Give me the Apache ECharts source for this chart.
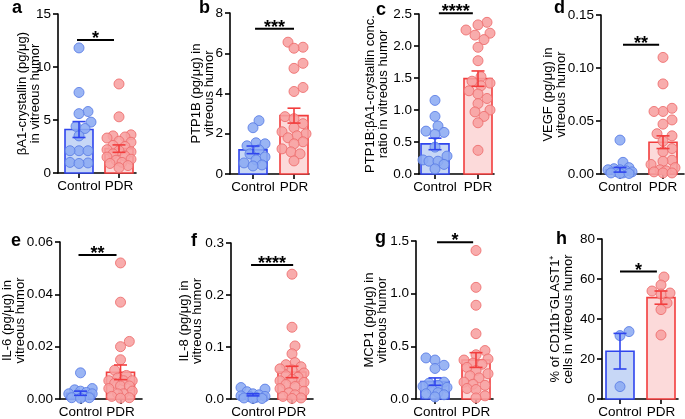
<!DOCTYPE html>
<html><head><meta charset="utf-8">
<script src="https://cdn.jsdelivr.net/npm/echarts@6/dist/echarts.min.js"></script>
<style>html,body{margin:0;padding:0;background:#fff}#c{width:685px;height:419px}</style>
</head><body><div id="c"></div>
<script>
// ---------------- DATA ----------------
const categories = ['Control', 'PDR'];

// a: βA1-crystallin
const aControl = [11.8, 7.6, 5.8, 5.6, 4.8, 4.4, 4.2, 3.5, 2.1, 2.1, 2.1, 1.0, 0.95, 0.9];
const aPDR = [8.4, 5.3, 3.6, 3.5, 3.4, 3.3, 3.0, 2.9, 2.6, 2.5, 2.2, 2.1, 2.0, 1.8, 1.6, 1.5, 1.3, 1.2, 1.0, 0.9, 0.7, 0.5];
const aMean = [4.1, 2.3];
const aSem = [0.75, 0.35];

// b: PTP1B
const bControl = [2.65, 2.3, 1.55, 1.5, 1.4, 1.2, 1.0, 0.85, 0.7, 0.55, 0.45, 0.4];
const bPDR = [6.55, 6.3, 6.25, 5.5, 5.25, 4.3, 4.1, 2.85, 2.75, 2.5, 2.3, 2.1, 2.0, 1.9, 1.8, 1.6, 1.5, 1.25, 1.1, 1.0, 0.65];
const bMean = [1.2, 2.9];
const bSem = [0.19, 0.37];

// c: PTP1B:βA1-crystallin ratio
const cControl = [1.15, 0.9, 0.75, 0.67, 0.65, 0.62, 0.42, 0.28, 0.22, 0.2, 0.2, 0.15, 0.08];
const cPDR = [2.37, 2.33, 2.25, 2.2, 2.17, 2.1, 1.98, 1.77, 1.52, 1.45, 1.42, 1.38, 1.3, 1.25, 1.18, 1.1, 1.0, 0.97, 0.9, 0.8, 0.37];
const cMean = [0.47, 1.49];
const cSem = [0.09, 0.12];

// d: VEGF
const dControl = [0.032, 0.011, 0.006, 0.005, 0.004, 0.004, 0.003, 0.002, 0.002, 0.001, 0.001, 0.0005, 0.0005];
const dPDR = [0.11, 0.085, 0.062, 0.059, 0.059, 0.051, 0.047, 0.038, 0.036, 0.031, 0.024, 0.021, 0.013, 0.012, 0.009, 0.006, 0.004, 0.003, 0.002, 0.001, 0.001];
const dMean = [0.004, 0.03];
const dSem = [0.0022, 0.006];

// e: IL-6
const eControl = [0.010, 0.004, 0.0035, 0.003, 0.0025, 0.002, 0.002, 0.0015, 0.001, 0.0005, 0.0005, 0.0003];
const ePDR = [0.052, 0.037, 0.022, 0.02, 0.015, 0.011, 0.009, 0.008, 0.007, 0.007, 0.007, 0.006, 0.005, 0.005, 0.004, 0.003, 0.002, 0.002, 0.001, 0.0005, 0.0003];
const eMean = [0.0022, 0.0102];
const eSem = [0.0008, 0.0028];

// f: IL-8
const fControl = [0.022, 0.019, 0.014, 0.01, 0.008, 0.006, 0.005, 0.004, 0.003, 0.002, 0.001, 0.001];
const fPDR = [0.24, 0.138, 0.102, 0.087, 0.07, 0.066, 0.062, 0.058, 0.056, 0.05, 0.045, 0.042, 0.038, 0.035, 0.032, 0.028, 0.024, 0.02, 0.015, 0.012, 0.008, 0.005, 0.002, 0.001];
const fMean = [0.008, 0.052];
const fSem = [0.002, 0.011];

// g: MCP1
const gControl = [0.39, 0.37, 0.32, 0.29, 0.16, 0.15, 0.13, 0.12, 0.11, 0.09, 0.06, 0.05, 0.04, 0.02];
const gPDR = [1.41, 1.06, 0.89, 0.62, 0.46, 0.42, 0.38, 0.37, 0.34, 0.33, 0.3, 0.27, 0.24, 0.22, 0.2, 0.16, 0.14, 0.13, 0.1, 0.09, 0.03, 0.01];
const gMean = [0.165, 0.37];
const gSem = [0.035, 0.07];

// h: % CD11b-GLAST1+ cells
const hControl = [33.7, 31.7, 6.2];
const hPDR = [61, 57, 54, 53, 52.5, 48, 44.7, 32];
const hMean = [23.9, 50.7];
const hSem = [8.9, 3.3];

// y-axis scales (max, interval, decimals)
const yMax = [15, 8, 2.5, 0.15, 0.06, 0.3, 1.5, 80];
const yInterval = [5, 2, 0.5, 0.05, 0.02, 0.1, 0.5, 20];
const yDecimals = [0, 0, 1, 2, 2, 1, 1, 0];

const panelLetters = ['a', 'b', 'c', 'd', 'e', 'f', 'g', 'h'];
const yNames = [
  'βA1-crystallin (pg/μg)\nin vitreous humor',
  'PTP1B (pg/μg) in\nvitreous humor',
  'PTP1B:βA1-crystallin conc.\nratio in vitreous humor',
  'VEGF (pg/μg) in\nvitreous humor',
  'IL-6 (pg/μg) in\nvitreous humor',
  'IL-8 (pg/μg) in\nvitreous humor',
  'MCP1 (pg/μg) in\nvitreous humor',
  '% of CD11b⁻GLAST1⁺\ncells in vitreous humor'
];
const significance = ['*', '***', '****', '**', '**', '****', '*', '*'];
const sigLevel = [12.55, 7.22, 2.51, 0.122, 0.055, 0.2575, 1.487, 63.7];

const controls = [aControl, bControl, cControl, dControl, eControl, fControl, gControl, hControl];
const pdrs = [aPDR, bPDR, cPDR, dPDR, ePDR, fPDR, gPDR, hPDR];
const means = [aMean, bMean, cMean, dMean, eMean, fMean, gMean, hMean];
const sems = [aSem, bSem, cSem, dSem, eSem, fSem, gSem, hSem];

// ---------------- LAYOUT (pixels) ----------------
const layout = [
  {axisX: 58,  ctrlX: 79,  pdrX: 119, endX: 136, topY: 14,  zeroY: 173, nameGap: 16, lab: [12, 13],  sig: [-0.05, 0.875]},
  {axisX: 230, ctrlX: 253, pdrX: 294, endX: 309, topY: 13,  zeroY: 174, nameGap: 14, lab: [199, 13], sig: [0.05, 1.0]},
  {axisX: 419, ctrlX: 435, pdrX: 478, endX: 494, topY: 14,  zeroY: 174, nameGap: 29, lab: [376, 15], sig: [0.09, 0.88]},
  {axisX: 601, ctrlX: 620, pdrX: 663, endX: 684, topY: 15,  zeroY: 174, nameGap: 33, lab: [554, 13], sig: [0.07, 0.91]},
  {axisX: 58,  ctrlX: 79,  pdrX: 120, endX: 142, topY: 242, zeroY: 402, nameGap: 33, lab: [11, 246], sig: [-0.05, 0.9]},
  {axisX: 231, ctrlX: 253, pdrX: 292, endX: 313, topY: 243, zeroY: 403, nameGap: 27, lab: [191, 246], sig: [-0.05, 1.03]},
  {axisX: 416, ctrlX: 435, pdrX: 476, endX: 493, topY: 241, zeroY: 403, nameGap: 27, lab: [375, 243], sig: [0.05, 0.93]},
  {axisX: 602, ctrlX: 620, pdrX: 661, endX: 678, topY: 239, zeroY: 402, nameGap: 27, lab: [556, 244], sig: [0.0, 0.9]}
];

const FONT = '"Liberation Sans", Arial, Helvetica, sans-serif';
const BLUE = {edge: '#2f45ee', fill: '#c7d7f6', dot: '#8cabf2', dotEdge: '#5c7ee6'};
const RED = {edge: '#f23d3d', fill: '#fcdada', dot: '#f7a1a1', dotEdge: '#ee6e6e'};
const BAR_W = 28;
const DOT = 10;

// simple beeswarm limited to the bar width: offsets computed in pixels, returned in x-axis units
function swarm(values, pxPerVal, unitPx, center) {
  const order = values.map((v, i) => i).sort((p, q) => values[p] - values[q]);
  const placed = [];
  const out = new Array(values.length);
  const cands = [0];
  for (let k = 1; k <= 4; k++) { cands.push(k * 3); cands.push(-k * 3); }
  order.forEach(idx => {
    const y = values[idx] * pxPerVal;
    let best = 0, bestD = -1;
    for (const off of cands) {
      let dmin = Infinity;
      placed.forEach(p => { dmin = Math.min(dmin, Math.hypot(p[0] - off, p[1] - y)); });
      if (dmin >= DOT * 0.85) { best = off; bestD = Infinity; break; }
      if (dmin > bestD) { bestD = dmin; best = off; }
    }
    placed.push([best, y]);
    out[idx] = [center + best / unitPx, values[idx]];
  });
  return out;
}

const grids = [], xAxes = [], yAxes = [], series = [], graphics = [];

layout.forEach((L, i) => {
  const unit = L.pdrX - L.ctrlX;
  const xmin = (L.axisX - L.ctrlX) / unit;
  const xmax = (L.endX - L.ctrlX) / unit;
  const h = L.zeroY - L.topY;
  const pxPerVal = h / yMax[i];

  grids.push({left: L.axisX, top: L.topY, width: L.endX - L.axisX, height: h});

  xAxes.push({
    gridIndex: i, type: 'value', min: xmin, max: xmax, position: 'bottom',
    splitLine: {show: false},
    axisLine: {show: true, onZero: false, lineStyle: {color: '#000', width: 1.6}},
    axisTick: {show: true, customValues: [0, 1], length: 5, lineStyle: {color: '#000', width: 1.6}},
    axisLabel: {show: true, customValues: [0, 1], formatter: v => categories[Math.round(v)],
      color: '#000', fontSize: 13.5, fontFamily: FONT, margin: 6}
  });

  yAxes.push({
    gridIndex: i, type: 'value', min: 0, max: yMax[i], interval: yInterval[i], position: 'left',
    splitLine: {show: false},
    axisLine: {show: true, onZero: false, lineStyle: {color: '#000', width: 1.6}},
    axisTick: {show: true, length: 5, lineStyle: {color: '#000', width: 1.6}},
    axisLabel: {color: '#000', fontSize: 13.5, fontFamily: FONT, margin: 7,
      formatter: v => v.toFixed(yDecimals[i])},
    name: yNames[i], nameLocation: 'middle', nameGap: L.nameGap, nameMoveOverlap: false,
    nameTextStyle: {color: '#000', fontSize: 13, fontFamily: FONT, lineHeight: 13}
  });

  // bars
  series.push({
    type: 'custom', xAxisIndex: i, yAxisIndex: i, z: 1,
    data: means[i].map((m, k) => [k, m]),
    renderItem: (params, api) => {
      const x = api.value(0), m = api.value(1);
      const base = api.coord([x, 0]), top = api.coord([x, m]);
      const col = params.dataIndex === 0 ? BLUE : RED;
      return {type: 'rect', shape: {x: base[0] - BAR_W / 2, y: top[1], width: BAR_W, height: base[1] - top[1]},
        style: {fill: col.fill, stroke: col.edge, lineWidth: 1.6}};
    }
  });

  // dots
  [controls[i], pdrs[i]].forEach((vals, k) => {
    const col = k === 0 ? BLUE : RED;
    series.push({
      type: 'scatter', xAxisIndex: i, yAxisIndex: i, z: 2, clip: false,
      symbol: 'circle', symbolSize: DOT,
      itemStyle: {color: col.dot, borderColor: col.dotEdge, borderWidth: 1, opacity: 0.88},
      data: swarm(vals, pxPerVal, unit, k)
    });
  });

  // error bars (mean ± SEM)
  series.push({
    type: 'custom', xAxisIndex: i, yAxisIndex: i, z: 3,
    data: means[i].map((m, k) => [k, m, sems[i][k]]),
    renderItem: (params, api) => {
      const x = api.value(0), m = api.value(1), s = api.value(2);
      const t = api.coord([x, m + s]), b = api.coord([x, m - s]);
      const c = params.dataIndex === 0 ? BLUE.edge : RED.edge;
      const cw = 6.5, st = {stroke: c, lineWidth: 1.6};
      return {type: 'group', children: [
        {type: 'line', shape: {x1: t[0], y1: t[1], x2: b[0], y2: b[1]}, style: st},
        {type: 'line', shape: {x1: t[0] - cw, y1: t[1], x2: t[0] + cw, y2: t[1]}, style: st},
        {type: 'line', shape: {x1: b[0] - cw, y1: b[1], x2: b[0] + cw, y2: b[1]}, style: st}
      ]};
    }
  });

  // significance bracket
  series.push({
    type: 'custom', xAxisIndex: i, yAxisIndex: i, z: 4, clip: false,
    data: [[L.sig[0], L.sig[1], sigLevel[i]]],
    renderItem: (params, api) => {
      const p1 = api.coord([api.value(0), api.value(2)]);
      const p2 = api.coord([api.value(1), api.value(2)]);
      return {type: 'group', children: [
        {type: 'line', shape: {x1: p1[0], y1: p1[1], x2: p2[0], y2: p2[1]}, style: {stroke: '#000', lineWidth: 2}},
        {type: 'text', x: (p1[0] + p2[0]) / 2, y: p1[1] - 1,
          style: {text: significance[i], fill: '#000', font: 'bold 18px ' + FONT, align: 'center', verticalAlign: 'middle'}}
      ]};
    }
  });

  graphics.push({type: 'text', left: L.lab[0], top: L.lab[1] - 14,
    style: {text: panelLetters[i], fill: '#000', font: 'bold 18px ' + FONT}});
});

const chart = echarts.init(document.getElementById('c'), null, {renderer: 'canvas'});
chart.setOption({
  animation: false,
  backgroundColor: '#fff',
  grid: grids, xAxis: xAxes, yAxis: yAxes, series: series, graphic: graphics
});
</script></body></html>
